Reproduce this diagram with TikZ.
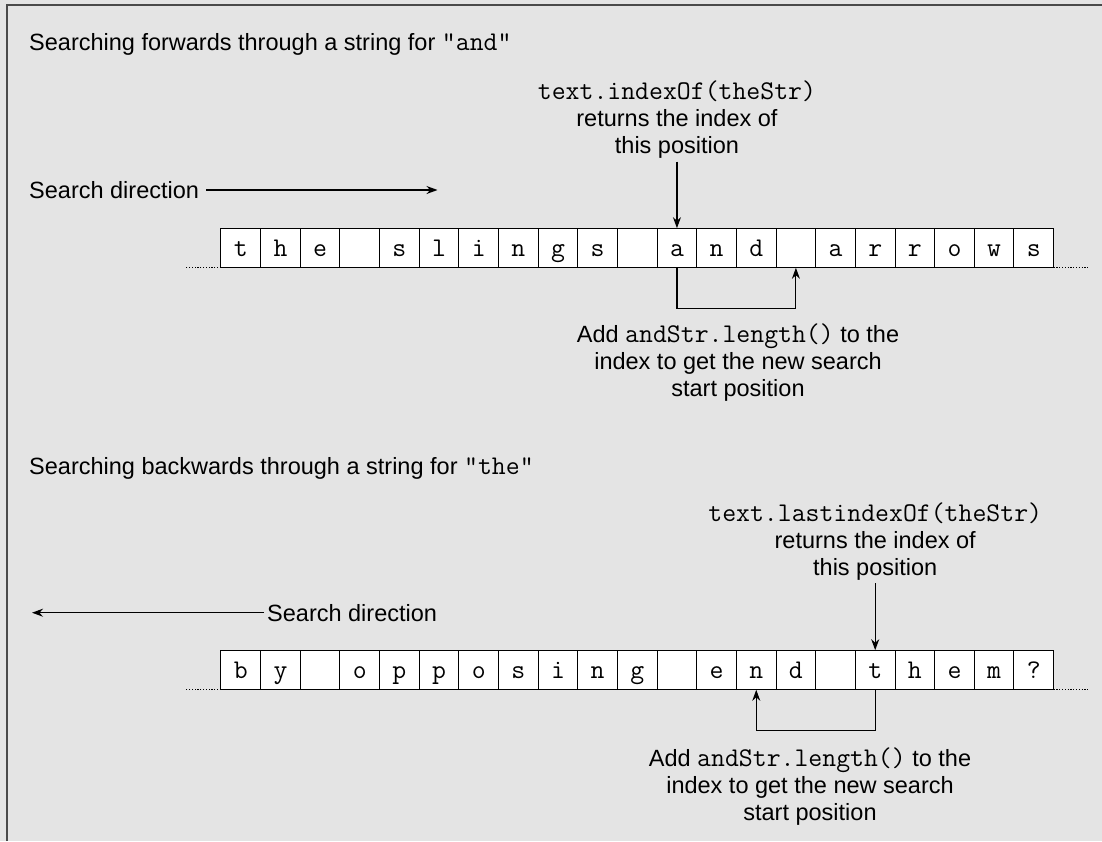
\documentclass[tikz,border=0pt]{standalone}
\usepackage{fontspec}
\setmainfont{Liberation Sans}
\usetikzlibrary{positioning,arrows.meta}
\definecolor{panel}{HTML}{E4E4E4}
\definecolor{frame}{HTML}{4A4A4A}
\newcommand{\code}[1]{{\ttfamily\fontsize{27}{26.8}\selectfont #1}}

\begin{document}
\begin{tikzpicture}[x=1pt,y=-1pt,>={Stealth[length=11pt,width=8pt]},
  note/.style={align=center,inner sep=3pt,font=\fontsize{23.5}{26.8}\selectfont},
  cell/.style={draw,fill=white,line width=1pt,minimum size=39.65pt,inner sep=0pt,outer sep=0pt,
    text height=18pt,text depth=0.6pt,font=\ttfamily\fontsize{27}{26}\selectfont},
  trail/.style={line width=1pt,dash pattern=on 1.2pt off 1.6pt},
  link/.style={->,line width=1.1pt}]
\useasboundingbox (0,0) rectangle (1102,841);
\fill[panel] (0,0) rectangle (1102,841);
\draw[frame,line width=2pt] (7,841) -- (7,4.7) -- (1102,4.7);

% forwards search
\node[note,anchor=base west] (title1) at (26,50.7) {Searching forwards through a string for \code{"and"}};
\node[note,anchor=west] (dir1) at (26,190) {Search direction};
\coordinate (dir1end) at (437.5,190);
\draw[link] (dir1.east) ++(4,0) -- (dir1end);

\foreach \ch [count=\i from 0] in {t,h,e,{},s,l,i,n,g,s,{},a,n,d,{},a,r,r,o,w,s}
  \node[cell] (a\i) at ({240.8+39.65*\i},248) {\ch};
\draw[trail] (a0.south west) -- ++(-35,0);
\draw[trail] (a20.south east) -- ++(35,0);

\node[note,above=66.6pt of a11] (find1) {\code{text.indexOf(theStr)}\\returns the index of\\this position};
\draw[link] (find1) -- (a11);
\draw[link] (a11.south) -- ++(0,40.3) -| (a14.south);
\node[note,anchor=north] (add1) at (738,321) {Add \code{andStr.length()} to the\\index to get the new search\\start position};

% backwards search
\node[note,anchor=base west] (title2) at (26,474.4) {Searching backwards through a string for \code{"the"}};
\node[note,anchor=west] (dir2) at (264,612.7) {Search direction};
\coordinate (dir2end) at (32,612.7);
\draw[link] (dir2) -- (dir2end);

\foreach \ch [count=\i from 0] in {b,y,{},o,p,p,o,s,i,n,g,{},e,n,d,{},t,h,e,m,?}
  \node[cell] (b\i) at ({240.8+39.65*\i},670) {\ch};
\draw[trail] (b0.south west) -- ++(-35,0);
\draw[trail] (b20.south east) -- ++(35,0);

\node[note,above=67pt of b16] (find2) {\code{text.lastindexOf(theStr)}\\returns the index of\\this position};
\draw[link] (find2) -- (b16);
\draw[link] (b16.south) -- ++(0,41) -| (b13.south);
\node[note,anchor=north] (add2) at (810,744.7) {Add \code{andStr.length()} to the\\index to get the new search\\start position};
\end{tikzpicture}
\end{document}
